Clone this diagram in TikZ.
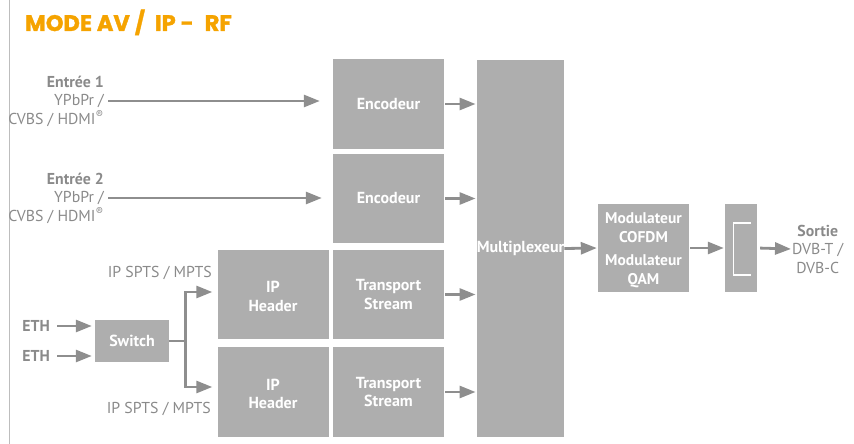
\documentclass[tikz,border=0pt]{standalone}
\usepackage{fontspec}
\setmainfont{PT Sans}
\newfontfamily\titlefont[BoldFeatures={FakeBold=1.6}]{Poppins}
\usetikzlibrary{arrows.meta, positioning}

\definecolor{boxgray}{HTML}{AEAEAE}
\definecolor{linegray}{HTML}{8E8E8E}
\definecolor{labelgray}{HTML}{8A8A8A}
\definecolor{titleorange}{HTML}{F5A300}
\definecolor{framegray}{HTML}{BDBDBD}

\begin{document}
\begin{tikzpicture}[
    x=1pt, y=-1pt,
    block/.style={fill=boxgray, text=white, font=\fontsize{16}{18.5}\selectfont\bfseries, align=center, inner sep=0pt},
    label/.style={text=labelgray, font=\fontsize{15.8}{18.5}\selectfont, align=right, inner sep=0pt},
    arrow/.style={-{Triangle[length=16pt, width=12pt]}, line width=2.8pt, draw=linegray}
]
\useasboundingbox (0,0) rectangle (854,444);

% frame and title
\draw[framegray, line width=1.2pt] (9.5,0) -- (9.5,444);
\node[anchor=base west, inner sep=0pt, text=titleorange, font=\titlefont\fontsize{22.5}{24}\selectfont\bfseries] (title) at (25,31) {MODE AV\hspace{5pt}/\hspace{10pt}IP\hspace{5pt}-\hspace{11pt}RF};

% blocks
\node[block, minimum width=111pt, minimum height=90pt] (enc1) at (388.5,104) {Encodeur};
\node[block, minimum width=111pt, minimum height=89pt] (enc2) at (388.5,198.5) {Encodeur};
\node[block, minimum width=111pt, minimum height=89pt] (ts1) at (388.5,294.5) {Transport\\Stream};
\node[block, minimum width=111pt, minimum height=90pt] (ts2) at (388.5,392) {Transport\\Stream};
\node[block, minimum width=111pt, minimum height=89pt] (ip1) at (273,294.5) {\rule{0pt}{15pt}IP\\Header};
\node[block, minimum width=111pt, minimum height=90pt] (ip2) at (273,392) {\rule{0pt}{15pt}IP\\Header};
\node[block, minimum width=87pt, minimum height=377pt] (mux) at (520.5,248.5) {Multiplexeur};
\node[block, minimum width=74pt, minimum height=42pt] (sw) at (132,341) {Switch};
\node[block, minimum width=91pt, minimum height=88pt, font=\fontsize{15.5}{19}\selectfont\bfseries] (mod) at (643.5,248) {\rule{0pt}{16pt}Modulateur\\COFDM\\[4pt]Modulateur\\QAM};
\node[block, minimum width=32pt, minimum height=88pt] (comb) at (741,248) {};
\draw[white, line width=1.8pt] (751,223) -- (733.5,223) -- (733.5,275) -- (751,275);

% labels
\node[label, anchor=east] (in1) at (104,101) {\textbf{Entrée 1}\\YPbPr /\\CVBS / HDMI\textsuperscript{®}};
\node[label, anchor=east] (in2) at (104,198) {\textbf{Entrée 2}\\YPbPr /\\CVBS / HDMI\textsuperscript{®}};
\node[label, anchor=east] (eth1) at (50,326) {\textbf{ETH}};
\node[label, anchor=east] (eth2) at (50,356) {\textbf{ETH}};
\node[label, anchor=east] (ipin1) at (212,273) {IP SPTS / MPTS};
\node[label, anchor=east] (ipin2) at (211,409) {IP SPTS / MPTS};
\node[label, align=center, anchor=west] (out) at (792,249) {\textbf{Sortie}\\DVB-T /\\DVB-C};

% connections
\draw[arrow, shorten <=4pt, shorten >=13pt] (in1.east) -- (in1.east -| enc1.west);
\draw[arrow, shorten <=4pt, shorten >=11pt] (in2.east) -- (in2.east -| enc2.west);
\draw[arrow, shorten <=1pt, shorten >=1pt] (enc1.east) -- (enc1.east -| mux.west);
\draw[arrow, shorten <=1pt, shorten >=1pt] (enc2.east) -- (enc2.east -| mux.west);
\draw[arrow, shorten <=1pt, shorten >=1pt] (ts1.east) -- (ts1.east -| mux.west);
\draw[arrow, shorten <=1pt, shorten >=1pt] (ts2.east) -- (ts2.east -| mux.west);
\draw[arrow, shorten >=1pt] (mux.east) -- (mod.west);
\draw[arrow, shorten <=1pt, shorten >=1pt] (mod.east) -- (comb.west);
\draw[arrow, shorten <=3pt, shorten >=1pt] (comb.east) -- (out.west);
\draw[arrow, shorten <=7pt, shorten >=3pt] (eth1.east) -- (eth1.east -| sw.west);
\draw[arrow, shorten <=7pt, shorten >=3pt] (eth2.east) -- (eth2.east -| sw.west);
\coordinate[right=16pt of sw.east] (split);
\draw[linegray, line width=2.8pt] (sw.east) -- (split);
\draw[arrow, shorten >=5pt] (split) |- ([yshift=2.5pt]ip1.west);
\draw[arrow, shorten >=5pt] (split) |- ([yshift=5pt]ip2.west);

\end{tikzpicture}
\end{document}
